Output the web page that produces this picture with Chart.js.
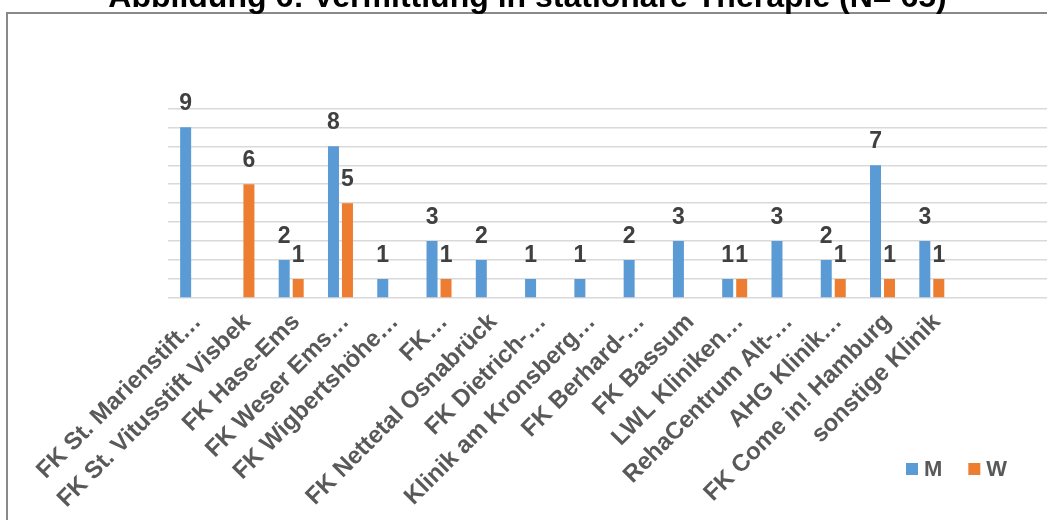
<!DOCTYPE html>
<html>
<head>
<meta charset="utf-8">
<script src="https://cdn.jsdelivr.net/npm/chart.js@4.4.0/dist/chart.umd.min.js"></script>
<style>
  html, body { margin: 0; padding: 0; width: 1047px; height: 520px; overflow: hidden; background: #fff; }
  #frame { position: absolute; left: 6px; top: 12px; width: 1100px; height: 600px; border: 2px solid #898989; }
  #c { position: absolute; left: 0; top: -30px; }
</style>
</head>
<body>
<div id="frame"></div>
<canvas id="c" width="1060" height="550"></canvas>
<script>
// categories (two empty slots at the end, as in the original plot area)
const categories = [
  "FK St. Marienstift…", "FK St. Vitusstift Visbek", "FK Hase-Ems", "FK Weser Ems…",
  "FK Wigbertshöhe…", "FK…", "FK Nettetal Osnabrück", "FK Dietrich-…",
  "Klinik am Kronsberg…", "FK Berhard-…", "FK Bassum", "LWL Kliniken…",
  "RehaCentrum Alt-…", "AHG Klinik…", "FK Come in! Hamburg", "sonstige Klinik", "", ""
];
const seriesNames = ["M", "W"];
const valuesM = [9, null, 2, 8, 1, 3, 2, 1, 1, 2, 3, 1, 3, 2, 7, 3, null, null];
const valuesW = [null, 6, 1, 5, null, 1, null, null, null, null, null, 1, null, 1, 1, 1, null, null];
const yTicks = [0, 1, 2, 3, 4, 5, 6, 7, 8, 9, 10];

const FONT = "'Liberation Sans', Arial, sans-serif";
Chart.defaults.font.family = FONT;

// value labels above the bars
const barLabels = {
  id: "barLabels",
  afterDatasetsDraw(chart) {
    const ctx = chart.ctx;
    ctx.save();
    ctx.font = "bold 23px " + FONT;
    ctx.fillStyle = "#404040";
    ctx.textAlign = "center";
    ctx.textBaseline = "alphabetic";
    chart.data.datasets.forEach((ds, i) => {
      chart.getDatasetMeta(i).data.forEach((bar, j) => {
        const v = ds.data[j];
        if (v == null) return;
        ctx.fillText(String(v), bar.x, bar.y - 17);
      });
    });
    ctx.restore();
  }
};

// small legend at the lower right
const sideLegend = {
  id: "sideLegend",
  afterDraw(chart) {
    const ctx = chart.ctx;
    ctx.save();
    ctx.font = "bold 22px " + FONT;
    ctx.textBaseline = "middle";
    ctx.textAlign = "left";
    let x = 906;
    const y = 500;
    chart.data.datasets.forEach(ds => {
      ctx.fillStyle = ds.backgroundColor;
      ctx.fillRect(x, y - 7, 12, 12);
      ctx.fillStyle = "#595959";
      ctx.fillText(ds.label, x + 18, y);
      x += 18 + ctx.measureText(ds.label).width + 26;
    });
    ctx.restore();
  }
};

new Chart(document.getElementById("c"), {
  type: "bar",
  data: {
    labels: categories,
    datasets: [
      { label: seriesNames[0], data: valuesM, backgroundColor: "#5b9bd5" },
      { label: seriesNames[1], data: valuesW, backgroundColor: "#ed7d31" }
    ]
  },
  options: {
    responsive: false,
    animation: false,
    categoryPercentage: 0.568,
    barPercentage: 0.786,
    layout: { padding: { left: 0, right: 5, top: 0, bottom: 0 } },
    plugins: {
      legend: { display: false },
      tooltip: { enabled: false },
      title: {
        display: true,
        text: "Abbildung 6: Vermittlung in stationäre Therapie (N= 65)",
        color: "#000",
        font: { size: 32, weight: "bold" },
        padding: { top: 9, bottom: 91 }
      }
    },
    scales: {
      x: {
        grid: { display: false },
        border: { display: false },
        ticks: {
          autoSkip: false,
          minRotation: 45,
          maxRotation: 45,
          padding: 2,
          labelOffset: 5,
          color: "#595959",
          font: { size: 24, weight: "bold" }
        },
        afterFit(s) { s.height = 222; s.paddingLeft = 0; s.paddingRight = 0; }
      },
      y: {
        min: yTicks[0],
        max: yTicks[yTicks.length - 1],
        afterBuildTicks(s) { s.ticks = yTicks.map(v => ({ value: v })); },
        grid: { color: "#d9d9d9", lineWidth: 1.5, drawTicks: false },
        border: { display: false },
        ticks: { display: false },
        afterFit(s) { s.width = 168; }
      }
    }
  },
  plugins: [barLabels, sideLegend]
});
</script>
</body>
</html>
